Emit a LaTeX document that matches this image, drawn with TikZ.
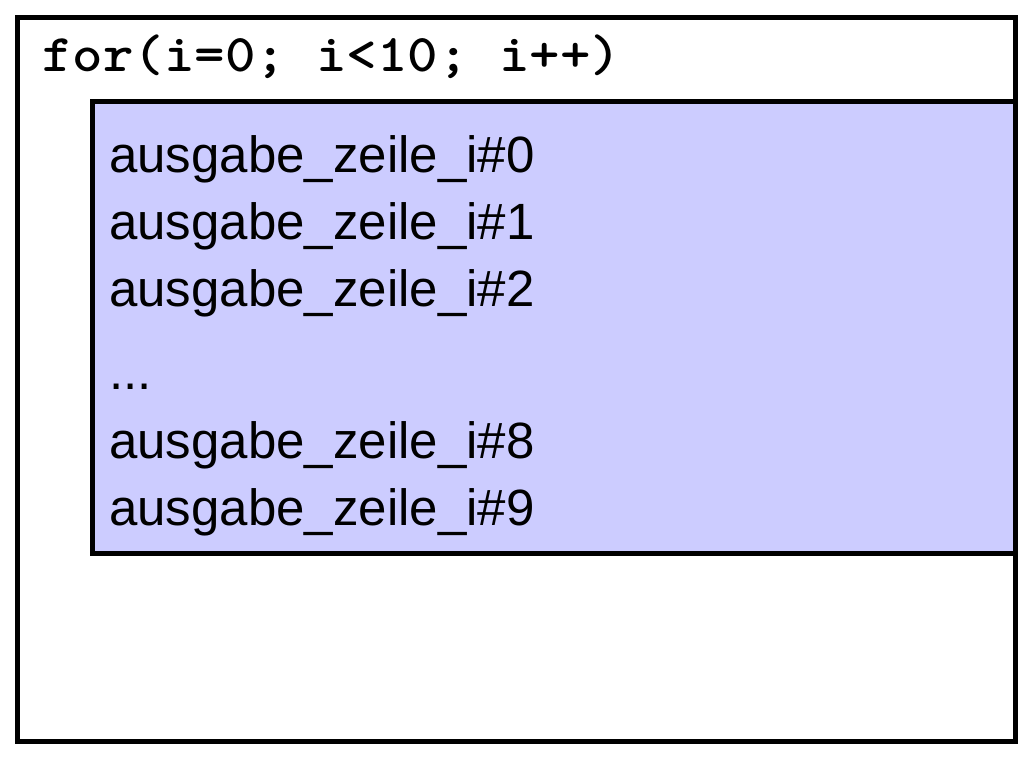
\documentclass[tikz,border=0pt]{standalone}
\usepackage{fontspec}
\setmainfont{Liberation Sans}
\definecolor{boxfill}{HTML}{CCCCFF}
\begin{document}
\begin{tikzpicture}[x=1pt,y=-1pt,
  frame/.style={draw=black,line width=5pt,inner sep=0pt,rectangle},
  codeline/.style={anchor=base west,inner sep=0pt,font=\ttfamily\bfseries\fontsize{53}{60}\selectfont},
  outline/.style={anchor=base west,inner sep=0pt,font=\fontsize{51}{60}\selectfont}]
\useasboundingbox (0,0) rectangle (1024,768);
\fill[white] (0,0) rectangle (1024,768);
\node[frame,fill=white,minimum width=997.5pt,minimum height=724pt] (outer) at (516.25,379.5) {};
\node[frame,fill=boxfill,minimum width=922.5pt,minimum height=452pt] (inner) at (553.75,327.5) {};
\node[codeline] (head) at (42,71) {\scalebox{1.095}[1]{for(i=0; i<10; i++)}};
\node[outline] (l0) at (109,172) {ausgabe\_zeile\_i\#0};
\node[outline] (l1) at (109,239) {ausgabe\_zeile\_i\#1};
\node[outline] (l2) at (109,306) {ausgabe\_zeile\_i\#2};
\node[outline] (ld) at (109,389) {...};
\node[outline] (l8) at (109,458) {ausgabe\_zeile\_i\#8};
\node[outline] (l9) at (109,525) {ausgabe\_zeile\_i\#9};
\end{tikzpicture}
\end{document}
